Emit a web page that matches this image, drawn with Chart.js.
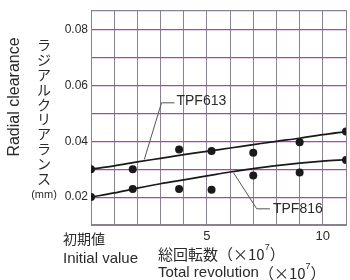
<!DOCTYPE html>
<html>
<head>
<meta charset="utf-8">
<script src="https://cdn.jsdelivr.net/npm/chart.js@4/dist/chart.umd.min.js"></script>
<style>
html,body{margin:0;padding:0;background:#fff;}
#wrap{width:350px;height:280px;position:relative;}
</style>
</head>
<body>
<div id="wrap"><canvas id="c" width="350" height="280"></canvas></div>
<script>
// x positions (total revolutions, x10^7) of measured points
const measX = [0, 1.8, 3.8, 5.2, 7.0, 9.0, 11.0];
// measured radial clearance (mm)
const tpf613Meas = [0.030, 0.030, 0.0371, 0.0365, 0.0359, 0.0397, 0.0435];
const tpf816Meas = [0.020, 0.0229, 0.0229, 0.0226, 0.0277, 0.0288, 0.0333];
// fitted trend curves
const curveX = [0, 1, 2, 3, 4, 5, 6, 7, 8, 9, 10, 11];
const tpf613Curve = [0.0300, 0.0312, 0.0326, 0.0339, 0.0352, 0.0364, 0.0376, 0.0388, 0.0400, 0.0411, 0.0424, 0.0435];
const tpf816Curve = [0.0200, 0.0215, 0.0232, 0.0248, 0.0262, 0.0276, 0.0290, 0.0302, 0.0313, 0.0322, 0.0329, 0.0334];
const xTickLabels = [5, 10];
const yTickLabels = [0.02, 0.04, 0.06, 0.08];
const seriesNames = ["TPF613", "TPF816"];
// leader line paths (data coords) for the series labels
const leader613 = [[2.3, 0.0335], [3.04, 0.0538], [3.6, 0.0538]];
const leader816 = [[6.15, 0.0287], [7.15, 0.0158], [7.72, 0.0158]];

const toPts = (xs, ys) => xs.map((x, i) => ({x: x, y: ys[i]}));
const INK = '#2a2a2a';
const FONT = '"Liberation Sans", Arial, sans-serif';
const JFONT = '"Noto Sans CJK JP", sans-serif';
const GRAY = '#8a8290';
const MAG = '#a54aa8';

const extras = {
  id: 'extras',
  afterDraw(chart) {
    const ctx = chart.ctx;
    const xs = chart.scales.x, ys = chart.scales.y;
    ctx.save();
    // leader lines
    ctx.strokeStyle = '#555';
    ctx.lineWidth = 1;
    [leader613, leader816].forEach(path => {
      ctx.beginPath();
      path.forEach((p, i) => {
        const px = xs.getPixelForValue(p[0]), py = ys.getPixelForValue(p[1]);
        if (i === 0) ctx.moveTo(px, py); else ctx.lineTo(px, py);
      });
      ctx.stroke();
    });
    ctx.fillStyle = INK;
    ctx.font = '14px ' + FONT;
    ctx.textAlign = 'left';
    ctx.textBaseline = 'middle';
    const l1 = leader613[2], l2 = leader816[2];
    ctx.fillText(seriesNames[0], xs.getPixelForValue(l1[0]) + 2, ys.getPixelForValue(l1[1]) - 2);
    ctx.fillText(seriesNames[1], xs.getPixelForValue(l2[0]) + 3, ys.getPixelForValue(l2[1]));

    // y axis titles
    ctx.save();
    ctx.translate(15, 97);
    ctx.rotate(-Math.PI / 2);
    ctx.font = '16px ' + FONT;
    ctx.textAlign = 'center';
    ctx.textBaseline = 'middle';
    ctx.fillText('Radial clearance', 0, 0);
    ctx.restore();

    const jp = 'ラジアルクリアランス';
    ctx.font = '14px ' + JFONT;
    ctx.textAlign = 'center';
    ctx.textBaseline = 'middle';
    for (let i = 0; i < jp.length; i++) {
      ctx.fillText(jp[i], 44, 45 + i * 14.8);
    }
    ctx.font = '11px ' + FONT;
    ctx.fillText('(mm)', 44, 195);

    // bottom labels
    ctx.textAlign = 'left';
    ctx.font = '14px ' + JFONT;
    ctx.fillText('初期値', 63, 239);
    ctx.font = '15px ' + FONT;
    ctx.fillText('Initial value', 63, 259);
    ctx.font = '15px ' + JFONT;
    ctx.fillText('総回転数（×10', 158, 254);
    let w = ctx.measureText('総回転数（×10').width;
    ctx.font = '9px ' + FONT;
    ctx.fillText('7', 158 + w, 248);
    let w2 = ctx.measureText('7').width;
    ctx.font = '15px ' + JFONT;
    ctx.fillText('）', 158 + w + w2, 254);

    ctx.font = '15px ' + FONT;
    const t = 'Total revolution';
    ctx.fillText(t, 158, 273);
    let tw = ctx.measureText(t).width;
    ctx.font = '15px ' + JFONT;
    ctx.fillText('（×10', 158 + tw, 273);
    let tw2 = ctx.measureText('（×10').width;
    ctx.font = '9px ' + FONT;
    ctx.fillText('7', 158 + tw + tw2, 267);
    let tw3 = ctx.measureText('7').width;
    ctx.font = '15px ' + JFONT;
    ctx.fillText('）', 158 + tw + tw2 + tw3, 273);
    ctx.restore();
  }
};

new Chart(document.getElementById('c'), {
  type: 'line',
  data: {
    datasets: [
      {label: seriesNames[0] + ' fit', data: toPts(curveX, tpf613Curve), borderColor: '#1a1a1a', borderWidth: 1.7, pointRadius: 0, tension: 0.4, cubicInterpolationMode: 'monotone', fill: false},
      {label: seriesNames[1] + ' fit', data: toPts(curveX, tpf816Curve), borderColor: '#1a1a1a', borderWidth: 1.7, pointRadius: 0, tension: 0.4, cubicInterpolationMode: 'monotone', fill: false},
      {label: seriesNames[0], data: toPts(measX, tpf613Meas), showLine: false, pointRadius: 4, pointBackgroundColor: '#1a1a1a', pointBorderColor: '#1a1a1a', borderWidth: 0},
      {label: seriesNames[1], data: toPts(measX, tpf816Meas), showLine: false, pointRadius: 4, pointBackgroundColor: '#1a1a1a', pointBorderColor: '#1a1a1a', borderWidth: 0}
    ]
  },
  options: {
    responsive: false,
    animation: false,
    layout: {padding: {left: 0, top: 10, right: 2, bottom: 0}},
    plugins: {legend: {display: false}, tooltip: {enabled: false}},
    scales: {
      x: {
        type: 'linear', min: 0, max: 11,
        afterFit: s => { s.height = 55; },
        border: {display: true, color: GRAY, width: 1},
        grid: {color: GRAY, lineWidth: 1, drawTicks: false},
        ticks: {
          stepSize: 1, padding: 4, color: INK, font: {size: 13, family: FONT},
          autoSkip: false, maxRotation: 0,
          callback: v => xTickLabels.includes(v) ? String(v) : ''
        }
      },
      y: {
        type: 'linear', min: 0.01, max: 0.087,
        afterFit: s => { s.width = 91; },
        border: {display: true, color: GRAY, width: 1},
        grid: {
          color: ctx => (ctx.tick && (Math.abs(ctx.tick.value - 0.01) < 1e-6 || ctx.tick.value > 0.085)) ? GRAY : MAG,
          lineWidth: 1.2, drawTicks: false
        },
        ticks: {
          stepSize: 0.01, padding: 3, color: INK, font: {size: 12, family: FONT},
          autoSkip: false,
          callback: v => yTickLabels.some(t => Math.abs(t - v) < 1e-6) ? v.toFixed(2) : ''
        }
      }
    }
  },
  plugins: [extras]
});
</script>
</body>
</html>
